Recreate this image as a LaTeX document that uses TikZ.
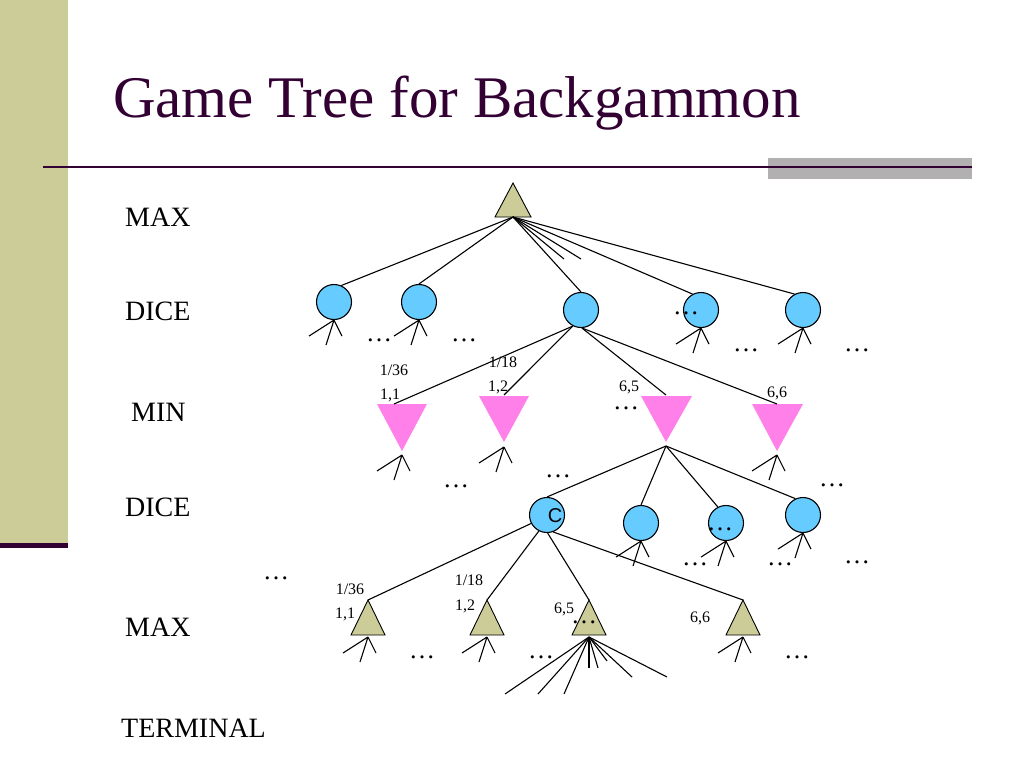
\documentclass[tikz,border=0pt]{standalone}
\usepackage{fontspec}
\setmainfont{Liberation Serif}
\newfontfamily\sansf{Liberation Sans}
\definecolor{khaki}{RGB}{204,204,153}
\definecolor{plum}{RGB}{51,0,51}
\definecolor{diceblue}{RGB}{102,204,255}
\definecolor{minpink}{RGB}{255,128,232}
\definecolor{bargrey}{RGB}{178,176,176}
\newcommand\legs[1]{\draw[edge] (#1) -- ++(-25,16) (#1) -- ++(-8,25) (#1) -- ++(8,16);}
\begin{document}
\begin{tikzpicture}[x=1pt,y=-1pt,
  edge/.style={line width=1.1pt, black},
  dicenode/.style={circle, draw=black, line width=1.1pt, fill=diceblue, minimum size=35pt, inner sep=0pt},
  maxtri/.style={draw=black, line width=0.9pt, fill=khaki, line join=miter},
  mintri/.style={draw=none, fill=minpink},
  lvl/.style={font=\fontsize{28}{32}\selectfont, inner sep=0pt, anchor=west},
  prob/.style={font=\fontsize{16}{18}\selectfont, inner sep=0pt},
  dotsl/.style={font=\fontsize{26}{28}\selectfont, inner sep=0pt, anchor=base}]
\useasboundingbox (0,0) rectangle (1024,768);
\fill[white] (0,0) rectangle (1024,768);
% decoration
\fill[khaki] (0,0) rectangle (68,543);
\fill[plum] (0,543) rectangle (68,548);
\fill[bargrey] (768,158) rectangle (972,179);
\fill[plum] (43,165.8) rectangle (972,168.2);
\node[anchor=base west, inner sep=0pt, text=plum, font=\fontsize{59}{64}\selectfont] (title) at (113,117) {Game Tree for Backgammon};
% level labels
\node[lvl] (lmax1) at (125,217) {MAX};
\node[lvl] (ldice1) at (125,311) {DICE};
\node[lvl] (lmin) at (131,412) {MIN};
\node[lvl] (ldice2) at (125,507) {DICE};
\node[lvl] (lmax2) at (125,627) {MAX};
\node[lvl] (lterm) at (121,728) {TERMINAL};
% root
\draw[maxtri] (495,217) -- (513,183) -- (531,217) -- cycle;
\coordinate (rootb) at (513,217);
% dice level 1
\node[dicenode] (c1) at (334,302) {};
\node[dicenode] (c2) at (419,302) {};
\node[dicenode] (c3) at (581,310) {};
\node[dicenode] (c4) at (701,310) {};
\node[dicenode] (c5) at (803,310) {};
\coordinate (s1) at (564,259);
\coordinate (s2) at (581,259);
\draw[edge] (rootb) -- (c1.66);
\draw[edge] (rootb) -- (c2.north);
\draw[edge] (rootb) -- (c3.north);
\draw[edge] (rootb) -- (s1);
\draw[edge] (rootb) -- (s2);
\draw[edge] (rootb) -- (c4.118);
\draw[edge] (rootb) -- (c5.118);
\legs{c1.south}
\legs{c2.south}
\legs{c4.south}
\legs{c5.south}
% min triangles
\draw[mintri] (377,404) -- (427,404) -- (402,451) -- cycle;
\draw[mintri] (479,396) -- (529,396) -- (504,442) -- cycle;
\draw[mintri] (641,396) -- (692,396) -- (666,442) -- cycle;
\draw[mintri] (752,404) -- (803,404) -- (777,451) -- cycle;
\coordinate (t1t) at (394,404);
\coordinate (t2t) at (504,395);
\coordinate (t3t) at (666,395);
\coordinate (t4t) at (777,404);
\coordinate (t1b) at (402,455);
\coordinate (t2b) at (504,447);
\coordinate (t3b) at (666,446);
\coordinate (t4b) at (777,455);
\draw[edge] (c3.243) -- (t1t);
\draw[edge] (c3.243) -- (t2t);
\draw[edge] (c3.273) -- (t3t);
\draw[edge] (c3.273) -- (t4t);
\legs{t1b}
\legs{t2b}
\legs{t4b}
% dice level 2
\node[dicenode] (d1) at (547,515) {};
\node[dicenode] (d2) at (641,523) {};
\node[dicenode] (d3) at (726,523) {};
\node[dicenode] (d4) at (803,515) {};
\node[inner sep=0pt, font=\sansf\fontsize{20}{22}\selectfont] (clab) at (555,516) {C};
\draw[edge] (t3b) -- (d1.north);
\draw[edge] (t3b) -- (d2.north);
\draw[edge] (t3b) -- (d3.117);
\draw[edge] (t3b) -- (d4.115);
\legs{d2.south}
\legs{d3.south}
\legs{d4.south}
% max triangles
\draw[maxtri] (351,635) -- (368,600) -- (385,635) -- cycle;
\draw[maxtri] (470,635) -- (487,600) -- (504,635) -- cycle;
\draw[maxtri] (572,635) -- (589,600) -- (606,635) -- cycle;
\draw[maxtri] (726,635) -- (743,600) -- (760,635) -- cycle;
\coordinate (m1t) at (368,600);
\coordinate (m2t) at (487,600);
\coordinate (m3t) at (589,600);
\coordinate (m4t) at (743,600);
\coordinate (m1b) at (368,637);
\coordinate (m2b) at (487,637);
\coordinate (m3b) at (589,637);
\coordinate (m4b) at (743,637);
\draw[edge] (d1.208) -- (m1t);
\draw[edge] (d1.243) -- (m2t);
\draw[edge] (d1.272) -- (m3t);
\draw[edge] (d1.290) -- (m4t);
\legs{m1b}
\legs{m2b}
\legs{m4b}
\foreach [count=\i] \x/\y in {505/694,538/694,564/694,589/668,598/668,607/661,632/677,667/677}
  {\coordinate (f\i) at (\x,\y); \draw[edge] (m3b) -- (f\i);}
% probability / dice labels
\node[prob] (p1) at (394,370) {1/36};
\node[prob] (p2) at (390,395) {1,1};
\node[prob] (p3) at (503,362) {1/18};
\node[prob] (p4) at (498,387) {1,2};
\node[prob] (p5) at (629,387) {6,5};
\node[prob] (p6) at (777,393) {6,6};
\node[prob] (q1) at (350,589) {1/36};
\node[prob] (q2) at (345,614) {1,1};
\node[prob] (q3) at (469,580) {1/18};
\node[prob] (q4) at (465,606) {1,2};
\node[prob] (q5) at (564,609) {6,5};
\node[prob] (q6) at (700,618) {6,6};
% ellipses
\foreach [count=\i] \x/\y in {379/341,464/341,686/314,746/351,857/351,626/409,456/487,558/477,832/486,720/530,695/565,780/565,857/563,276/579,584/623,422/658,541/658,797/658}
  {\node[dotsl] (e\i) at (\x,\y) {…};}
\end{tikzpicture}
\end{document}
